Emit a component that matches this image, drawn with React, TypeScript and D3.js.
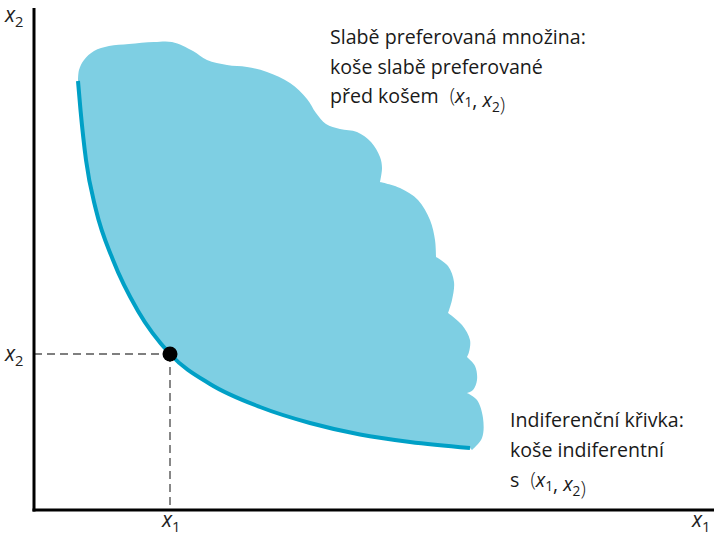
import * as d3 from 'd3'

const W = 714
const H = 537

// plot units: roughly 10 px per unit along each axis
const xDomain = [0, 68]
const yDomain = [0, 50.2]

// indifference curve through the bundle (x1, x2)
const curveX1 = [4.4, 4.65, 5.2, 6.2, 7.9, 10.4, 13.6, 17.6, 22.6, 27.6, 32.6, 37.6, 43.6]
const curveX2 = [42.9, 40.0, 35.0, 30.0, 25.0, 19.9, 15.6, 12.6, 10.3, 8.7, 7.55, 6.8, 6.2]

const bundle = { x1: 13.6, x2: 15.6 }

// wavy outline of the weakly preferred set, one lobe between each pair of notches
const lobes: [number, number][][] = [
  [
    [4.4, 42.9], [4.5, 44.0], [5.0, 45.0], [6.0, 45.9], [7.5, 46.4], [9.5, 46.6], [12.0, 46.8],
    [13.8, 46.8], [15.9, 45.9], [17.3, 45.0], [19.3, 44.5], [21.3, 44.3], [23.3, 43.8], [25.6, 42.7],
    [27.3, 41.1], [28.2, 39.7], [29.2, 38.6], [30.6, 38.1], [32.3, 37.8], [33.7, 36.8],
    [34.6, 35.3], [34.8, 34.2], [34.6, 32.8],
  ],
  [[34.6, 32.8], [36.6, 32.2], [38.4, 31.0], [39.6, 29.0], [40.1, 27.0], [40.2, 25.3]],
  [[40.2, 25.3], [41.4, 24.4], [42.0, 22.8], [41.8, 21.0], [41.4, 19.7]],
  [[41.4, 19.7], [42.8, 18.5], [43.6, 17.0], [43.5, 15.8], [43.3, 15.3]],
  [[43.3, 15.3], [44.1, 14.4], [44.3, 13.0], [43.9, 12.0], [43.3, 11.7]],
  [[43.3, 11.7], [44.3, 11.0], [44.9, 9.2], [44.8, 7.2], [43.8, 6.0]],
]

const setLines = ['Slabě preferovaná množina:', 'koše slabě preferované', 'před košem']
const curveLines = ['Indiferenční křivka:', 'koše indiferentní', 's']

const FONT = '"Open Sans", "Noto Sans", sans-serif'
const FILL = '#7ecfe3'
const LINE = '#00a0c6'

function Xsub({ n, size }: { n: number; size: number }) {
  return (
    <>
      <tspan fontStyle="italic">x</tspan>
      <tspan fontSize={size * 0.7} dy={size * 0.22}>{n}</tspan>
      <tspan dy={-size * 0.22}></tspan>
    </>
  )
}

function Pair({ size }: { size: number }) {
  return (
    <>
      <tspan fontWeight={300} dx={6}> (</tspan>
      <Xsub n={1} size={size} />
      <tspan>, </tspan>
      <Xsub n={2} size={size} />
      <tspan fontWeight={300}>)</tspan>
    </>
  )
}

export default function App() {
  const x = d3.scaleLinear().domain(xDomain).range([34, 714])
  const y = d3.scaleLinear().domain(yDomain).range([510, 8])

  const curvePts: [number, number][] = curveX1.map((v, i) => [v, curveX2[i]])
  const lobeLine = d3
    .line<[number, number]>()
    .x((d) => x(d[0]))
    .y((d) => y(d[1]))
    .curve(d3.curveCatmullRom.alpha(0.5))
  const icLine = d3
    .line<[number, number]>()
    .x((d) => x(d[0]))
    .y((d) => y(d[1]))
    .curve(d3.curveMonotoneX)

  const icPath = icLine(curvePts) || ''

  // area: along the curve, then back up the lobes bottom-right -> top-left
  let areaPath = icPath
  ;[...lobes].reverse().forEach((lobe) => {
    const seg = lobeLine([...lobe].reverse()) || ''
    areaPath += 'L' + seg.slice(1)
  })
  areaPath += 'Z'

  const fs = 19.6
  const bx = x(bundle.x1)
  const by = y(bundle.x2)

  return (
    <svg
      width={W}
      height={H}
      style={{ position: 'absolute', left: 0, top: 0, background: '#fff' }}
      fontFamily={FONT}
    >
      <path d={areaPath} fill={FILL} />
      <path d={icPath} fill="none" stroke={LINE} strokeWidth={4} />

      {/* dashed guides to the bundle */}
      <line x1={x(0)} x2={bx} y1={by} y2={by} stroke="#555" strokeWidth={1.4} strokeDasharray="8,5" />
      <line x1={bx} x2={bx} y1={by} y2={y(0)} stroke="#555" strokeWidth={1.4} strokeDasharray="8,5" />
      <circle cx={bx} cy={by} r={7.5} fill="#000" />

      {/* axes */}
      <line x1={x(0)} x2={x(0)} y1={y(yDomain[1])} y2={y(0) + 1.5} stroke="#000" strokeWidth={3} />
      <line x1={x(0) - 1.5} x2={x(xDomain[1])} y1={y(0)} y2={y(0)} stroke="#000" strokeWidth={3} />

      {/* axis labels */}
      <text x={5} y={22} fontSize={21} fill="#222">
        <Xsub n={2} size={21} />
      </text>
      <text x={692} y={527} fontSize={21} fill="#222">
        <Xsub n={1} size={21} />
      </text>
      <text x={5} y={361} fontSize={21} fill="#222">
        <Xsub n={2} size={21} />
      </text>
      <text x={162} y={527} fontSize={21} fill="#222">
        <Xsub n={1} size={21} />
      </text>

      {/* annotations */}
      <text fontSize={fs} fill="#1a1a1a">
        {setLines.map((t, i) => (
          <tspan key={i} x={330} y={44 + i * 29.5}>
            {t}
            {i === setLines.length - 1 && <Pair size={fs} />}
          </tspan>
        ))}
      </text>
      <text fontSize={fs} fill="#1a1a1a">
        {curveLines.map((t, i) => (
          <tspan key={i} x={510} y={427 + i * 30}>
            {t}
            {i === curveLines.length - 1 && <Pair size={fs} />}
          </tspan>
        ))}
      </text>
    </svg>
  )
}
